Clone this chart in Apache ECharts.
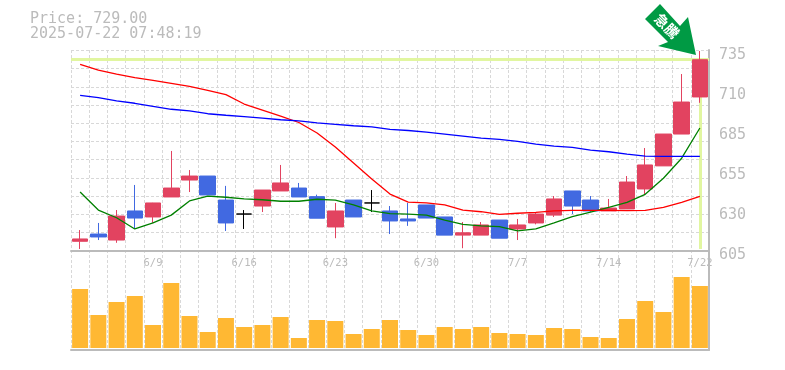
<!DOCTYPE html>
<html>
<head>
<meta charset="UTF-8">
<title>Price chart</title>
<script src="https://cdn.jsdelivr.net/npm/echarts@6/dist/echarts.min.js"></script>
<style>
html, body { margin: 0; padding: 0; background: #fff; }
#main { width: 785px; height: 370px; }
</style>
</head>
<body>
<div id="main"></div>
<script type="text/javascript">
var dates = ['6/3','6/4','6/5','6/6','6/9','6/10','6/11','6/12','6/13','6/16','6/17','6/18','6/19','6/20','6/23','6/24','6/25','6/26','6/27','6/30','7/1','7/2','7/3','7/4','7/7','7/8','7/9','7/10','7/11','7/14','7/15','7/16','7/17','7/18','7/22'];
var dateLabels = ['6/9','6/16','6/23','6/30','7/7','7/14','7/22'];

var opens  = [611,615.7,611.8,630.7,626.8,639.8,650.8,653.4,637.8,628.7,633.9,643.7,645.6,640,620.3,637.8,635.9,630.7,625.5,634.6,626.8,615,615,624.8,619,622.9,628,643.7,637.8,630.7,632,645,660,680.7,704.8];
var closes = [612.5,613.8,627.4,626.1,635.9,645.6,653.4,641.1,622.9,628.7,644.3,648.9,639.8,626,630.7,626.8,635.9,624.2,624.2,626.1,615,616.5,621.6,613,621.6,628.7,638.5,633.9,630.7,632.6,649.5,660.6,680.7,701.5,729];
var lows   = [606,611.8,610,619,622.9,639.8,643,641.1,617.7,619,630,643.7,639.8,626,613,626.8,630,615.7,621,626.1,615,606.5,615,613,611.8,622,626.8,628.7,630,630.7,632,641,660,680.7,701];
var highs  = [618.3,622.9,631.3,647.6,636,669.7,657.3,653.4,647,631.3,644.3,660.6,648.9,641.3,635.9,637.8,644.3,633.9,635.9,634.6,626.8,623.5,623.5,624.8,625.5,630,640.4,643.7,640.4,638.5,653.4,671.6,680.7,719.7,734.7];

var maShort = [643,631.3,626.3,619,622.9,628,637.2,640.4,639.6,638.5,638,637,637,638.3,637.8,634.6,630.7,629,628.7,628,624.8,622,621,620.5,617.7,619,622.9,627,630,633,636.3,641.5,652,665,684.6];
var maMid   = [726,722.3,719.7,717.3,715.6,713.7,711.7,709.1,706.3,700.2,696.3,692.4,688.2,681.4,672.3,661.9,651.5,641.7,636.5,635.9,634.6,631.3,630.2,628.5,629.2,629.8,630.7,631.1,631.1,631.1,630.9,631.1,633.1,636.3,640.2];
var maLong  = [705.9,704.3,702.2,700.7,698.7,696.8,695.7,693.9,692.9,692,691,690,689.2,687.9,687,686.1,685.3,683.7,683,682,680.7,679.4,678.1,677.2,675.9,674.2,672.9,672,670.3,669.2,667.7,666.4,666.2,666.2,666.2];

var volumes = [59,33,46,52,23,65,32,16,30,21,23,31,10,28,27,14,19,28,18,13,21,19,21,15,14,13,20,19,11,10,29,47,36,71,62];

var yTickValues = [605,631,657,683,709,735];
var yTickLabels = ['605','630','655','685','710','735'];

var currentPrice = 729;
var titleText = 'Price: 729.00\n2025-07-22 07:48:19';
var arrowText = '急騰';

var MONO = '"DejaVu Sans Mono", monospace';
var GRAY = '#bbbbbb';
var GRID_LINE = { show: true, lineStyle: { color: '#d8d8d8', width: 1, type: [3, 2] } };

var candles = [];
for (var i = 0; i < dates.length; i++) {
	candles.push([opens[i], closes[i], lows[i], highs[i]]);
}

function maSeries(name, data, color) {
	return {
		name: name, type: 'line', xAxisIndex: 0, yAxisIndex: 0, data: data,
		symbol: 'none', z: 4, silent: true,
		lineStyle: { color: color, width: 1.3 }
	};
}

var myChart = echarts.init(document.getElementById('main'), null, { renderer: 'canvas' });

var option = {
	animation: false,
	backgroundColor: '#ffffff',
	title: {
		text: titleText, left: 30, top: 12, padding: 0,
		textStyle: { fontFamily: MONO, fontSize: 15, fontWeight: 'normal', color: GRAY, lineHeight: 15 }
	},
	grid: [
		{ left: 71, top: 50.5, width: 638, height: 200 },
		{ left: 71, top: 277, width: 638, height: 71 },
		{ left: 71, top: 50, width: 638, height: 300 }
	],
	xAxis: [
		{
			type: 'category', gridIndex: 0, data: dates,
			axisLine: { lineStyle: { color: GRAY, width: 2 } },
			axisTick: { show: false },
			axisLabel: {
				margin: 7, color: GRAY, fontFamily: MONO, fontSize: 10.5, hideOverlap: false,
				interval: function (index, value) { return dateLabels.indexOf(value) >= 0; }
			}
		},
		{
			type: 'category', gridIndex: 1, data: dates,
			axisLine: { show: false }, axisTick: { show: false }, axisLabel: { show: false }
		},
		// 出来高まで通る縦の点線
		{
			type: 'category', gridIndex: 2, data: dates,
			axisLine: { lineStyle: { color: GRAY, width: 2 } },
			axisTick: { show: false }, axisLabel: { show: false },
			splitLine: { show: true, interval: 0, lineStyle: GRID_LINE.lineStyle }
		}
	],
	yAxis: [
		{
			type: 'value', gridIndex: 0, position: 'right', min: 605, max: 735,
			axisLine: { show: false }, axisTick: { show: false }, splitLine: { show: false },
			axisLabel: {
				customValues: yTickValues, margin: 10, color: GRAY, fontFamily: MONO, fontSize: 15,
				verticalAlign: 'top', lineHeight: 10,
				formatter: function (v) { return yTickLabels[yTickValues.indexOf(v)]; }
			}
		},
		// 横の点線だけ
		{
			type: 'value', gridIndex: 0, position: 'left', min: 0, max: 11, interval: 1,
			axisLine: { show: false }, axisTick: { show: false }, axisLabel: { show: false },
			splitLine: GRID_LINE
		},
		{
			type: 'value', gridIndex: 1, min: 0, max: 71,
			axisLine: { show: false }, axisTick: { show: false }, axisLabel: { show: false },
			splitLine: { show: false }
		},
		{
			type: 'value', gridIndex: 2, position: 'right', min: 0, max: 1,
			axisLine: { show: true, lineStyle: { color: GRAY, width: 2 } },
			axisTick: { show: false }, axisLabel: { show: false }, splitLine: { show: false }
		}
	],
	series: [
		{
			name: 'guide', type: 'line', xAxisIndex: 0, yAxisIndex: 0, data: [], z: 1, silent: true,
			markLine: {
				silent: true, symbol: 'none', animation: false, z: 1,
				label: { show: false },
				lineStyle: { color: '#e1f6a0', width: 3, type: 'solid' },
				data: [
					{ yAxis: currentPrice },
					[{ coord: [dates[dates.length - 1], currentPrice] }, { coord: [dates[dates.length - 1], 606] }]
				]
			}
		},
		{
			name: 'price', type: 'candlestick', xAxisIndex: 0, yAxisIndex: 0, data: candles,
			barWidth: 16, z: 3, silent: true,
			itemStyle: {
				color: '#e24360', color0: '#4169e1',
				borderColor: '#e24360', borderColor0: '#4169e1', borderColorDoji: '#000000',
				borderWidth: 1
			}
		},
		maSeries('ma5', maShort, '#008000'),
		maSeries('ma25', maMid, '#ff0000'),
		maSeries('ma75', maLong, '#0000ff'),
		{
			name: 'volume', type: 'bar', xAxisIndex: 1, yAxisIndex: 2, data: volumes,
			barWidth: 16, silent: true,
			itemStyle: { color: '#ffb833' }
		}
	],
	graphic: [
		{
			type: 'polygon', z: 10, silent: true,
			shape: { points: [[660, 4], [645, 19], [668, 42], [658, 46], [696, 55], [688, 17], [680, 26]] },
			style: { fill: '#009a44' }
		},
		{
			type: 'text', z: 11, silent: true, x: 667, y: 26, rotation: -Math.PI / 4,
			style: {
				text: arrowText, fill: '#ffffff', font: 'bold 14px "Noto Sans CJK JP"',
				align: 'center', verticalAlign: 'middle'
			}
		}
	]
};

myChart.setOption(option);
</script>
</body>
</html>
